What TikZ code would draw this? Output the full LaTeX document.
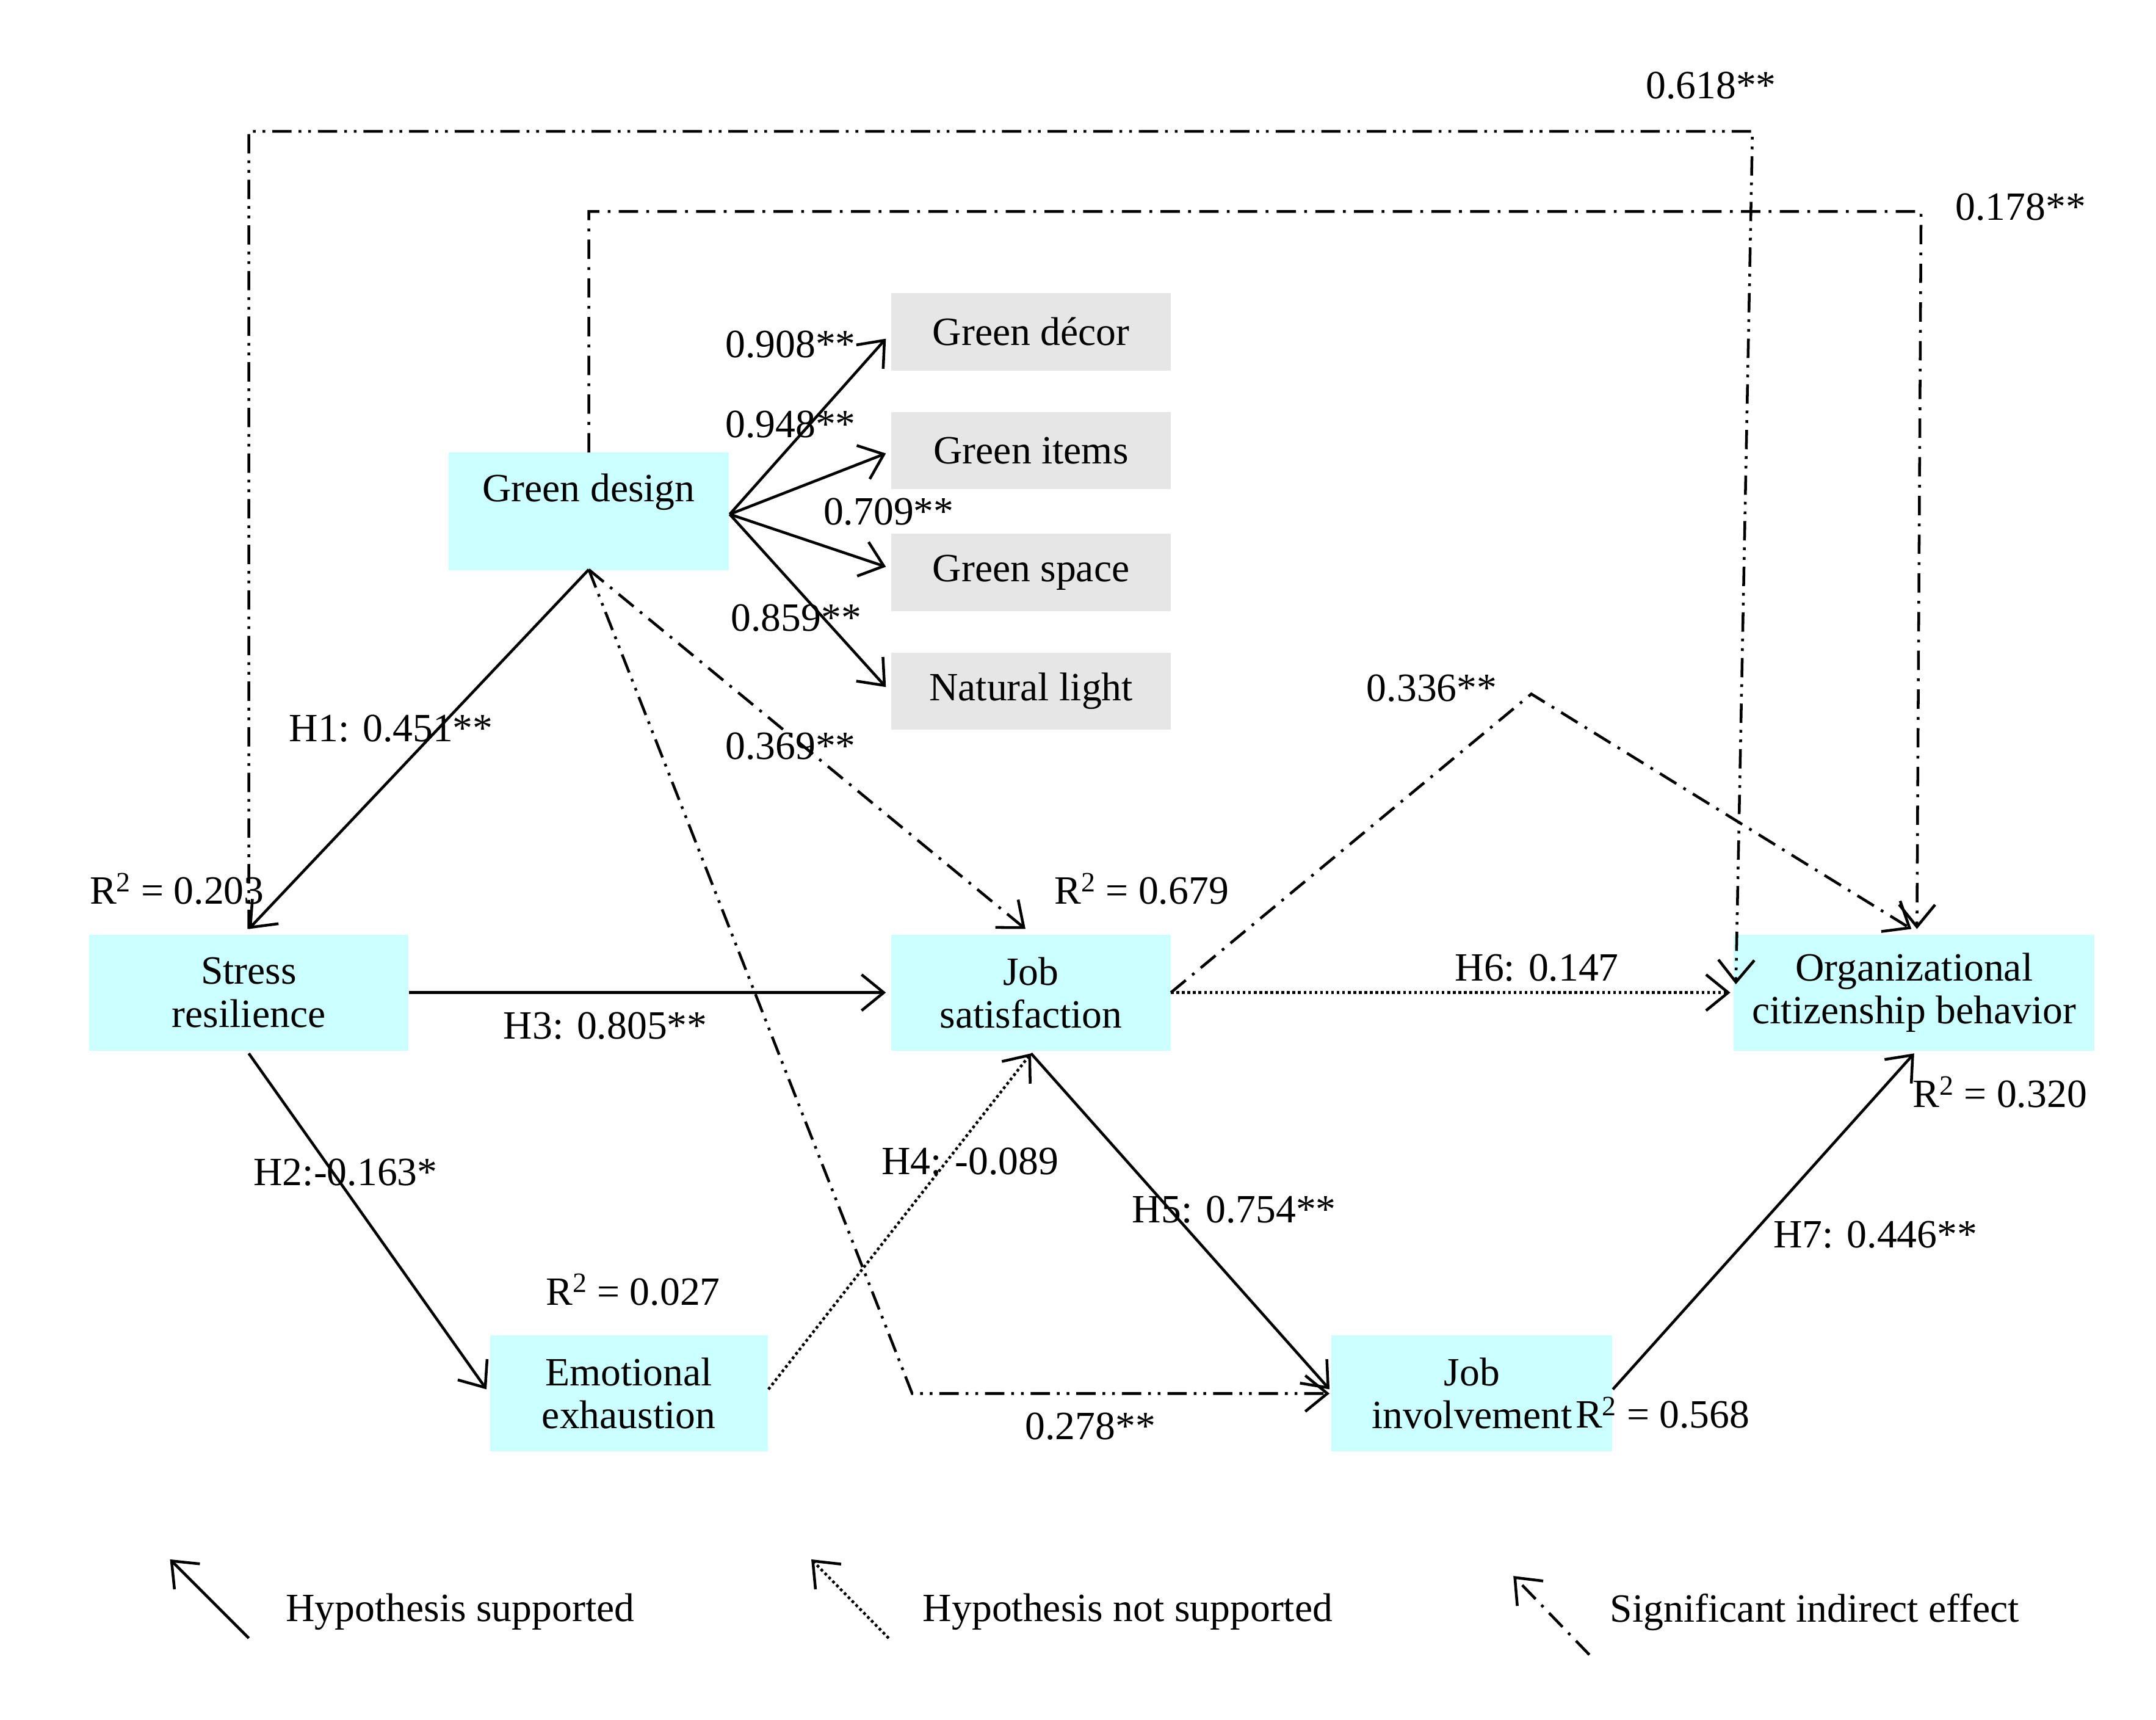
\documentclass[tikz,border=0pt]{standalone}
\usepackage{fontspec}
\setmainfont{Liberation Serif}
\usetikzlibrary{arrows.meta}
\definecolor{lcy}{RGB}{204,255,255}
\definecolor{lgr}{RGB}{230,230,230}
\begin{document}
\begin{tikzpicture}[x=1pt,y=-1pt,
  font=\fontsize{29}{31}\selectfont,
  cy/.style={fill=lcy,inner sep=0pt,align=center},
  gr/.style={fill=lgr,inner sep=0pt,minimum width=202pt,minimum height=56pt},
  ar/.style={line width=2pt,-{Straight Barb[length=16pt,width=26pt,line width=2pt]}},
  dd/.style={ar,dash pattern=on 14pt off 6pt on 2pt off 6pt},
  ddd/.style={ar,dash pattern=on 14pt off 5pt on 2pt off 5pt on 2pt off 5pt},
  dt/.style={ar,dotted},
  lb/.style={inner sep=1pt}]
\useasboundingbox (0,0) rectangle (1560,1244);
\node[cy,minimum width=203pt,minimum height=85pt] (gd) at (426,370) {};
\node at (426,356) {Green design};
\node[gr] (g1) at (746,240) {Green décor};
\node[gr] (g2) at (746,326) {Green items};
\node[gr] (g3) at (746,414) {Green space};
\node[gr] (g4) at (746,500) {Natural light};
\node[cy,minimum width=231pt,minimum height=84pt] (sr) at (180,718) {Stress\\resilience};
\node[cy,minimum width=202pt,minimum height=84pt] (js) at (746,718) {Job\\satisfaction};
\node[cy,minimum width=261pt,minimum height=84pt] (ocb) at (1385,718) {Organizational\\citizenship behavior};
\node[cy,minimum width=201pt,minimum height=84pt] (ee) at (455,1008) {Emotional\\exhaustion};
\node[cy,minimum width=203pt,minimum height=84pt] (ji) at (1065,1008) {Job\\involvement};
\coordinate (gdb) at (426,412);
\coordinate (gdr) at (528,372);
% indicator arrows
\draw[ar] (gdr) -- (641,245);
\draw[ar] (gdr) -- (641,328);
\draw[ar] (gdr) -- (641,410);
\draw[ar] (gdr) -- (641,497);
\node[lb] at (572,249) {0.908**};
\node[lb] at (572,307) {0.948**};
\node[lb] at (643,370) {0.709**};
\node[lb] at (576,447) {0.859**};
% hypotheses
\draw[ar] (gdb) -- (180,672);
\node[lb] at (283,527) {H1: 0.451**};
\draw[ar] (sr.east) -- (641,718);
\node[lb] at (438,742) {H3: 0.805**};
\draw[ar] (180,762) -- (352,1005);
\node[lb] at (250,848) {H2:-0.163*};
\draw[dt] (556,1005) -- (746,762);
\node[lb] at (702,840) {H4: -0.089};
\draw[ar] (746,762) -- (962,1005);
\node[lb] at (893,875) {H5: 0.754**};
\draw[ar] (1167,1005) -- (1385,762);
\node[lb] at (1357,893) {H7: 0.446**};
\draw[dt] (js.east) -- (1252,718);
\node[lb] at (1112,700) {H6: 0.147};
% indirect
\draw[dd] (gdb) -- (742,672);
\node[lb] at (572,540) {0.369**};
\draw[ddd] (gdb) -- (660,1008) -- (962,1008);
\node[lb] at (789,1032) {0.278**};
\draw[dd] (gd.north) -- (426,153) -- (1390,153) -- (1387,672);
\node[lb] at (1462,150) {0.178**};
\draw[ddd] (180,672) -- (180,95) -- (1268,95) -- (1256,712);
\node[lb] at (1238,62) {0.618**};
\draw[dd] (js.east) -- (1108,502) -- (1383,672);
\node[lb] at (1036,498) {0.336**};
% R2
\node[lb] at (128,643) {R\textsuperscript{2} = 0.203};
\node[lb] at (826,643) {R\textsuperscript{2} = 0.679};
\node[lb] at (458,933) {R\textsuperscript{2} = 0.027};
\node[lb] at (1203,1022) {R\textsuperscript{2} = 0.568};
\node[lb] at (1447,790) {R\textsuperscript{2} = 0.320};
% legend
\coordinate (l1a) at (180,1185); \coordinate (l1b) at (123,1128);
\draw[ar] (l1a) -- (l1b);
\node[lb] at (333,1166) {Hypothesis supported};
\coordinate (l2a) at (643,1185); \coordinate (l2b) at (587,1128);
\draw[dt] (l2a) -- (l2b);
\node[lb] at (816,1166) {Hypothesis not supported};
\coordinate (l3a) at (1150,1197); \coordinate (l3b) at (1095,1140);
\draw[dd] (l3a) -- (l3b);
\node[lb] at (1313,1166) {Significant indirect effect};
\end{tikzpicture}
\end{document}
